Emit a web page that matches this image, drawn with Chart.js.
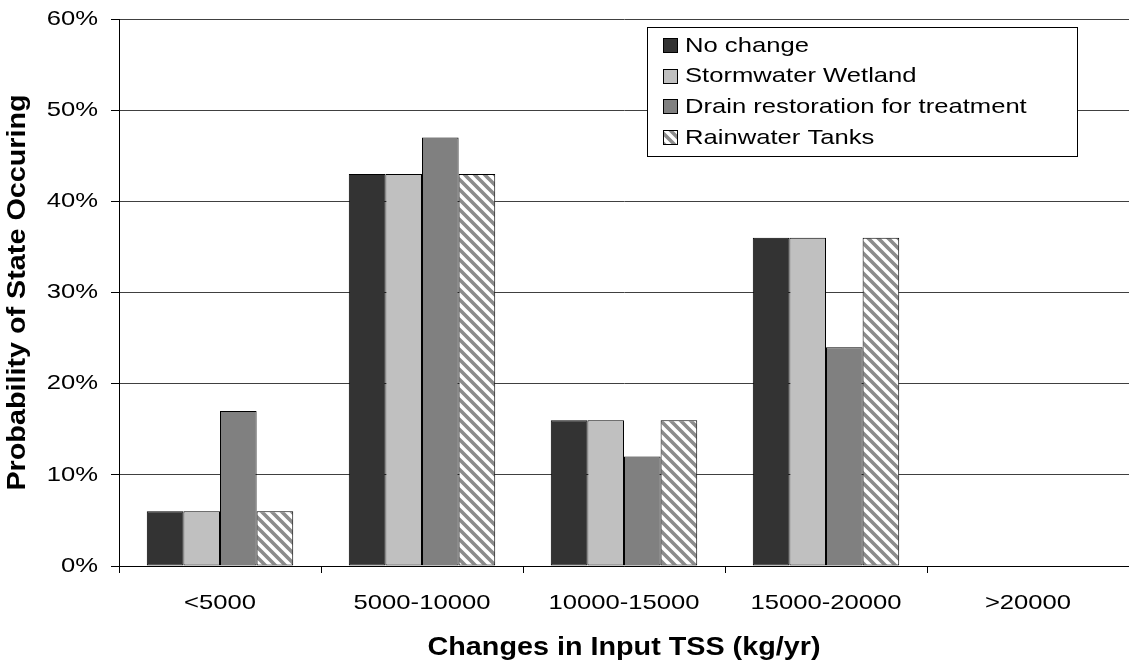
<!DOCTYPE html>
<html>
<head>
<meta charset="utf-8">
<script src="https://cdn.jsdelivr.net/npm/chart.js@4.4.1/dist/chart.umd.min.js"></script>
<style>
  html, body { margin: 0; padding: 0; background: #fff; overflow: hidden; }
  #c { display: block; }
</style>
</head>
<body>
<canvas id="c" width="1129" height="666"></canvas>
<script>
// Categories of change in input TSS load
const categories = ['<5000', '5000-10000', '10000-15000', '15000-20000', '>20000'];

// Probability (%) of each state for each scenario
const noChange   = [6, 43, 16, 36, 0];
const wetland    = [6, 43, 16, 36, 0];
const drainRest  = [17, 47, 12, 24, 0];
const rainTanks  = [6, 43, 16, 36, 0];

const seriesNames = ['No change', 'Stormwater Wetland', 'Drain restoration for treatment', 'Rainwater Tanks'];

// Y axis ticks (%)
const yMin = 0, yMax = 60, yStep = 10;

const FONT = 'Liberation Sans, Arial, Helvetica, sans-serif';

const ctx = document.getElementById('c').getContext('2d');

// Wide-set lettering: every label is drawn slightly expanded along its baseline
(function widenText(c) {
  const orig = c.fillText.bind(c);
  c.fillText = function (text, x, y, maxWidth) {
    const k = /bold/.test(c.font) ? 1.15 : 1.22;
    c.save();
    c.translate(x, y);
    c.scale(k, 1);
    orig(text, 0, 0);
    c.restore();
  };
})(ctx);

// Diagonal hatch used for the rainwater tank bars
function makeHatch() {
  const s = 10;
  const p = document.createElement('canvas');
  p.width = s; p.height = s;
  const g = p.getContext('2d');
  g.fillStyle = '#ffffff';
  g.fillRect(0, 0, s, s);
  g.strokeStyle = '#8c8c8c';
  g.lineWidth = 3.6;
  g.beginPath();
  for (let k = -2; k <= 2; k++) {
    g.moveTo(-s, k * s - s);
    g.lineTo(2 * s, k * s + 2 * s);
  }
  g.stroke();
  return g.createPattern(p, 'repeat');
}
const hatch = makeHatch();

// Boxed legend drawn inside the plot area
const boxLegend = {
  id: 'boxLegend',
  afterDraw(chart, args, opts) {
    const c = chart.ctx;
    c.save();
    c.fillStyle = '#ffffff';
    c.fillRect(opts.x, opts.y, opts.w, opts.h);
    c.strokeStyle = '#000';
    c.lineWidth = 1;
    c.strokeRect(opts.x + 0.5, opts.y + 0.5, opts.w, opts.h);
    c.font = '21px ' + FONT;
    c.textBaseline = 'middle';
    c.textAlign = 'left';
    chart.data.datasets.forEach((ds, i) => {
      const cy = opts.firstY + i * opts.rowH;
      c.fillStyle = ds.backgroundColor;
      c.fillRect(opts.markX, Math.round(cy - 7), 14, 14);
      c.strokeStyle = '#000';
      c.strokeRect(opts.markX + 0.5, Math.round(cy - 7) + 0.5, 14, 14);
      c.fillStyle = '#000';
      c.fillText(ds.label, opts.textX, cy + 1);
    });
    c.restore();
  }
};

const common = { borderColor: '#000', borderWidth: 1, borderSkipped: false,
                 categoryPercentage: 0.725, barPercentage: 1.0 };

new Chart(ctx, {
  type: 'bar',
  data: {
    labels: categories,
    datasets: [
      Object.assign({ label: seriesNames[0], data: noChange,  backgroundColor: '#333333' }, common),
      Object.assign({ label: seriesNames[1], data: wetland,   backgroundColor: '#c0c0c0' }, common),
      Object.assign({ label: seriesNames[2], data: drainRest, backgroundColor: '#808080' }, common),
      Object.assign({ label: seriesNames[3], data: rainTanks, backgroundColor: hatch }, common)
    ]
  },
  options: {
    responsive: false,
    animation: false,
    layout: { padding: { top: 19, right: 0, bottom: 0, left: 0 } },
    plugins: {
      legend: { display: false },
      tooltip: { enabled: false },
      boxLegend: { x: 647, y: 27, w: 430, h: 129, markX: 663, textX: 685, firstY: 45, rowH: 30.7 }
    },
    scales: {
      x: {
        offset: true,
        grid: { display: true, drawOnChartArea: false, drawTicks: true, tickLength: 7, color: '#000', offset: true },
        border: { display: true, color: '#000', width: 1 },
        ticks: { color: '#000', font: { family: FONT, size: 21 }, padding: 18, maxRotation: 0, autoSkip: false },
        title: { display: true, text: 'Changes in Input TSS (kg/yr)', color: '#000',
                 font: { family: FONT, size: 25, weight: 'bold' }, padding: { top: 0, bottom: 3 } },
        afterFit(scale) { scale.height = 100; scale.paddingLeft = 0; scale.paddingRight = 0; }
      },
      y: {
        min: yMin, max: yMax,
        grid: { display: true, color: '#404040', lineWidth: 1, drawTicks: true, tickLength: 8, tickColor: '#000' },
        border: { display: true, color: '#000', width: 1 },
        ticks: { stepSize: yStep, color: '#000', font: { family: FONT, size: 21 }, padding: 13,
                 callback: v => v + '%' },
        title: { display: true, text: 'Probability of State Occuring', color: '#000',
                 font: { family: FONT, size: 25, weight: 'bold' }, padding: { top: 3, bottom: 0 } },
        afterFit(scale) { scale.width = 119; scale.paddingTop = 0; scale.paddingBottom = 0; }
      }
    }
  },
  plugins: [boxLegend]
});
</script>
</body>
</html>
